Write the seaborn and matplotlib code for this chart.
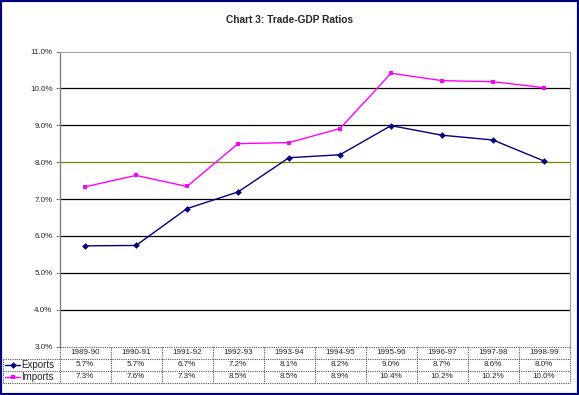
import numpy as np
import pandas as pd
import matplotlib
matplotlib.use("Agg")
import matplotlib.pyplot as plt
import seaborn as sns
from matplotlib.lines import Line2D
from matplotlib.patches import Rectangle
import matplotlib.transforms as mtransforms

# ---- data ----
years = ["1989-90", "1990-91", "1991-92", "1992-93", "1993-94",
         "1994-95", "1995-96", "1996-97", "1997-98", "1998-99"]
exports = [5.73, 5.74, 6.74, 7.19, 8.12, 8.2, 8.99, 8.73, 8.6, 8.03]
imports = [7.33, 7.64, 7.34, 8.5, 8.53, 8.91, 10.41, 10.21, 10.18, 10.02]
series_names = ["Exports", "Imports"]
yticks = [3, 4, 5, 6, 7, 8, 9, 10, 11]
title = "Chart 3: Trade-GDP Ratios"

df = pd.DataFrame({
    "pos": list(range(len(years))) * 2,
    "year": years * 2,
    "value": exports + imports,
    "series": [series_names[0]] * len(years) + [series_names[1]] * len(years),
})

sns.set_style("white")
plt.rcParams["font.family"] = ["Liberation Sans", "DejaVu Sans"]

W, H = 579, 395
fig = plt.figure(figsize=(W / 100, H / 100), dpi=100)
fig.patch.set_facecolor("white")

def fx(px):
    return px / W

def fy(py):
    return 1 - py / H

left, right, top, bottom = 59.5, 569.5, 51.5, 346.5
ax = fig.add_axes([fx(left), fy(bottom), (right - left) / W, (bottom - top) / H])

colors = {"Exports": "#000080", "Imports": "#FF00FF"}
markers = {"Exports": "D", "Imports": "s"}

# gridlines
for t in yticks[1:-1]:
    ax.axhline(t, color="#808000" if t == 8 else "black", lw=0.9, zorder=1)

sns.lineplot(data=df, x="pos", y="value", hue="series", style="series",
             palette=colors, markers=markers, dashes=False, lw=1.0,
             markersize=3.4, markeredgewidth=0, legend=False, ax=ax, zorder=3)

ax.set_xlim(-0.5, len(years) - 0.5)
ax.set_ylim(3, 11)
ax.set_yticks(yticks)
ax.set_yticklabels([f"{t:.1f}%" for t in yticks], fontsize=5.8)
ax.set_xticks([])
ax.set_xlabel("")
ax.set_ylabel("")
ax.tick_params(axis="y", length=3, width=0.8, color="#808080", pad=2, left=True)
for s in ["top", "right"]:
    ax.spines[s].set_color("#a0a0a0")
    ax.spines[s].set_linestyle((0, (1, 1)))
    ax.spines[s].set_linewidth(0.8)
ax.spines["left"].set_color("#808080")
ax.spines["left"].set_linewidth(1.0)
ax.spines["bottom"].set_visible(False)

fig.text(0.5, fy(20), title, ha="center", va="center", fontsize=7.3, fontweight="bold")

# ---- data table ----
trans = mtransforms.blended_transform_factory(ax.transData, fig.transFigure)
row_y = [347, 359, 371, 383]
label_left = 2.5
gridc = "#555555"
ls = (0, (1, 1))
for i, yy in enumerate(row_y):
    if i == 0:
        fig.add_artist(Line2D([-0.5, len(years) - 0.5], [fy(yy)] * 2, transform=trans,
                              color=gridc, lw=0.8, ls=ls))
    else:
        fig.add_artist(Line2D([fx(label_left), fx(right)], [fy(yy)] * 2, transform=fig.transFigure,
                              color=gridc, lw=0.8, ls=ls))
for k in range(len(years) + 1):
    fig.add_artist(Line2D([k - 0.5, k - 0.5], [fy(row_y[0]), fy(row_y[-1])], transform=trans,
                          color=gridc, lw=0.8, ls=ls))
fig.add_artist(Line2D([fx(label_left), fx(label_left)], [fy(row_y[1]), fy(row_y[-1])],
                      transform=fig.transFigure, color=gridc, lw=0.8, ls=ls))

vals = {"Exports": exports, "Imports": imports}
for i, yr in enumerate(years):
    fig.text(i, fy((row_y[0] + row_y[1]) / 2), yr, transform=trans,
             ha="center", va="center", fontsize=5.8)
    for r, name in enumerate(series_names):
        yc = fy((row_y[r + 1] + row_y[r + 2]) / 2)
        fig.text(i, yc, f"{vals[name][i]:.1f}%", transform=trans,
                 ha="center", va="center", fontsize=5.8)

for r, name in enumerate(series_names):
    yc = fy((row_y[r + 1] + row_y[r + 2]) / 2)
    fig.add_artist(Line2D([fx(5), fx(20)], [yc, yc], transform=fig.transFigure,
                          color=colors[name], lw=1.0))
    fig.add_artist(Line2D([fx(12.5)], [yc], transform=fig.transFigure, color=colors[name],
                          marker=markers[name], markersize=3.4, markeredgewidth=0, lw=0))
    fig.text(fx(21.5), yc, name, ha="left", va="center", fontsize=7)

# outer border
fig.add_artist(Rectangle((0, 0), 1, 1, transform=fig.transFigure, fill=False,
                         edgecolor="#000080", lw=3))

fig.savefig("out.png", dpi=100)
